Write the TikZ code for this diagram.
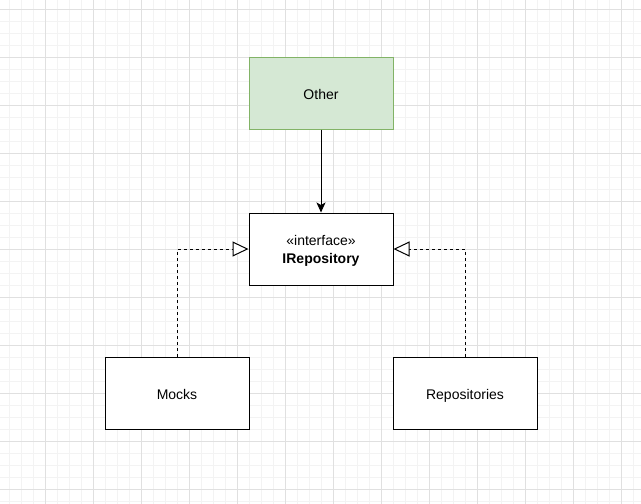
\documentclass[tikz,border=0pt]{standalone}
\usepackage{fontspec}
\setmainfont{Liberation Sans}
\usetikzlibrary{arrows.meta}
\definecolor{gridminor}{HTML}{F3F3F3}
\definecolor{gridmajor}{HTML}{E0E0E0}
\definecolor{otherfill}{HTML}{D5E8D4}
\definecolor{otherline}{HTML}{82B366}
\tikzset{
  classbox/.style={draw,line width=1pt,fill=white,minimum width=144pt,minimum height=72pt,
    inner sep=0pt,font=\fontsize{14}{18}\selectfont,align=center,text height=13pt,text depth=1pt},
  realize/.style={line width=1pt,dash pattern=on 3pt off 3pt,
    -{Triangle[length=16pt,width=15pt,fill=white]}},
  uses/.style={line width=1pt,-{Stealth[length=10pt,width=9pt,inset=2.5pt]}}
}
\begin{document}
\begin{tikzpicture}[x=1pt,y=-1pt]
\useasboundingbox[fill=white] (0,0) rectangle (641,504);
% background grid
\foreach \g in {9,21,...,633} \draw[gridminor,line width=1pt] (\g,0) -- (\g,504);
\foreach \g in {9,21,...,501} \draw[gridminor,line width=1pt] (0,\g) -- (641,\g);
\foreach \g in {45,93,...,633} \draw[gridmajor,line width=1pt] (\g,0) -- (\g,504);
\foreach \g in {9,57,...,501} \draw[gridmajor,line width=1pt] (0,\g) -- (641,\g);
\node[classbox,fill=otherfill,draw=otherline] (other) at (321,93) {Other};
\node[classbox,text height=,text depth=-5pt] (irepo) at (321,249) {«interface»\\\textbf{IRepository}};
\node[classbox] (mocks) at (177,393) {Mocks};
\node[classbox] (repos) at (465,393) {Repositories};
\draw[uses] (other) -- (irepo);
\draw[realize] (mocks.north) |- (irepo.west);
\draw[realize] (repos.north) |- (irepo.east);
\end{tikzpicture}
\end{document}
